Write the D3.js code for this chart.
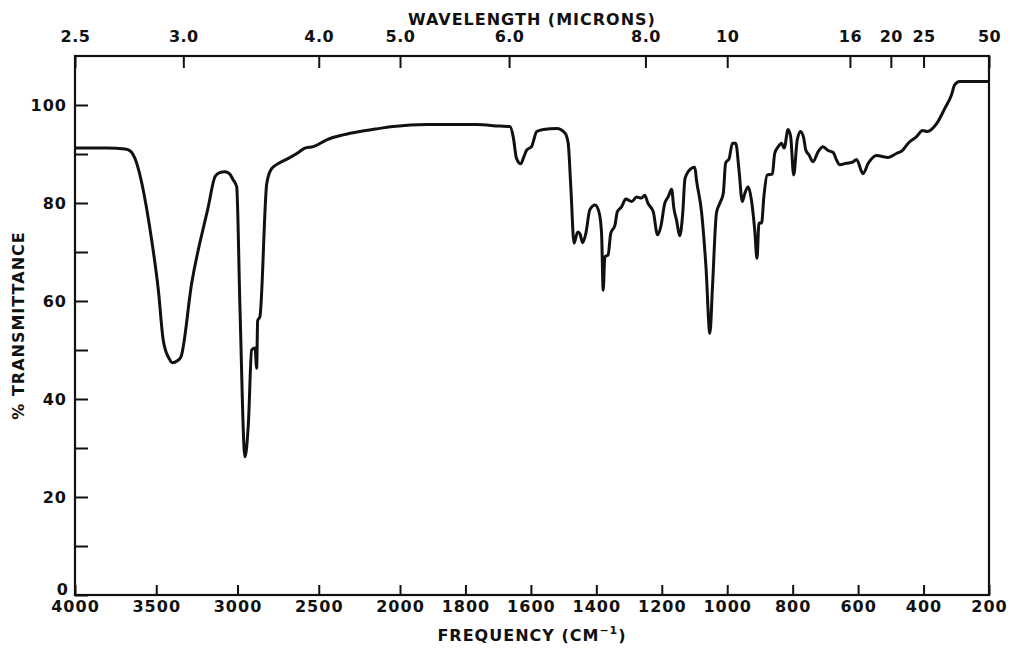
<!DOCTYPE html>
<html>
<head>
<meta charset="utf-8">
<script src="https://cdn.jsdelivr.net/npm/d3@7"></script>
<style>
  body { margin: 0; background: #fff; }
  text { font-family: "DejaVu Sans", sans-serif; font-weight: bold; fill: #111; }
</style>
</head>
<body>
<div id="chart"></div>
<script>
const width = 1015;
const height = 656;

// frequency (cm-1) and % transmittance
const frequency = [4000, 3800, 3692, 3660, 3641, 3528, 3487, 3457, 3420, 3401, 3370, 3348, 3282, 3180, 3138, 3110, 3077, 3050, 3026, 3005,
    2985, 2954, 2933, 2913, 2892, 2882, 2876, 2862, 2820, 2790, 2740, 2687, 2630, 2585, 2534, 2451, 2350, 2246, 2150, 2041,
    1918, 1766, 1695, 1664, 1654, 1644, 1631, 1621, 1613, 1598, 1582, 1562, 1521, 1496, 1486, 1478, 1468, 1457, 1450, 1442,
    1432, 1420, 1404, 1392, 1384, 1379, 1374, 1364, 1356, 1343, 1336, 1323, 1310, 1292, 1277, 1262, 1252, 1242, 1226, 1213,
    1203, 1191, 1180, 1170, 1163, 1155, 1145, 1136, 1129, 1109, 1099, 1094, 1078, 1065, 1053, 1045, 1033, 1023, 1012, 1005,
    994, 984, 974, 964, 954, 946, 936, 926, 916, 909, 903, 895, 888, 878, 862, 855, 844, 834, 826, 814,
    806, 797, 786, 776, 766, 760, 750, 738, 722, 707, 692, 676, 666, 656, 636, 615, 605, 585, 569, 544,
    508, 483, 465, 447, 422, 403, 389, 359, 335, 315, 305, 290, 200];
const transmittance = [91.2, 91.2, 91.0, 90.6, 89.8, 72.4, 62.2, 52, 48.2, 47.4, 47.8, 48.6, 63.6, 79.2, 85.4, 86.2, 86.4, 86.0, 84.7, 83.3,
    58.8, 28.2, 35, 50, 50.4, 46.3, 56, 56.8, 84, 87, 88.2, 89.1, 90.2, 91.2, 91.5, 92.9, 93.9, 94.6, 95.1, 95.6,
    96, 96, 95.7, 95.6, 93.5, 89.1, 88, 89.5, 90.8, 91.5, 94.6, 95, 95.2, 94.3, 92.2, 83.3, 71.8, 74.1, 73.7, 71.9,
    73.8, 78.6, 79.6, 78.2, 73.8, 62.2, 69, 69.4, 73.8, 75.5, 78.2, 79.2, 80.8, 80.3, 81.2, 81, 81.6, 79.9, 78.2, 73.5,
    75.2, 79.9, 81.3, 82.8, 78.9, 76.5, 73.3, 77.9, 85, 87.1, 87.3, 84.7, 77.9, 67, 53.4, 62.9, 77.9, 79.9, 82, 88.1,
    89.1, 92.2, 92.2, 86.7, 80.3, 82, 83.3, 80.6, 74.5, 68.7, 75.9, 75.9, 81.3, 85.7, 85.9, 90.1, 91.5, 92.2, 91.2, 95,
    93.5, 85.7, 92.9, 94.6, 93.2, 90.8, 89.8, 88.4, 90.5, 91.5, 90.7, 90.3, 88.8, 87.8, 88.1, 88.4, 88.9, 86, 88.1, 89.7,
    89.3, 90.1, 90.7, 92.2, 93.5, 94.8, 94.6, 96.3, 99.3, 102, 104.1, 104.8, 104.8];

const freqTicks = [4000, 3500, 3000, 2500, 2000, 1800, 1600, 1400, 1200, 1000, 800, 600, 400, 200];
const micronTicks = [2.5, 3.0, 4.0, 5.0, 6.0, 8.0, 10, 16, 20, 25, 50];
const micronLabels = ["2.5", "3.0", "4.0", "5.0", "6.0", "8.0", "10", "16", "20", "25", "50"];
const yTicks = [0, 10, 20, 30, 40, 50, 60, 70, 80, 90, 100];
const yLabels = [0, 20, 40, 60, 80, 100];

const plotLeft = 75, plotRight = 989, plotTop = 56, plotBottom = 595;

const svg = d3.select("#chart")
    .append("svg")
    .attr("width", width)
    .attr("height", height);

// chart paper: 4000-2000 is compressed to half the scale of 2000-200
const x = d3.scaleLinear()
    .domain([4000, 2000, 200])
    .range([plotLeft, 400, plotRight]);

const y = d3.scaleLinear()
    .domain([0, 110])
    .range([plotBottom, plotTop]);

// bottom axis, ticks point up
svg.append("g")
    .attr("transform", "translate(0," + plotBottom + ")")
    .call(d3.axisBottom(x).tickValues(freqTicks).tickSize(-10).tickPadding(6).tickFormat(d3.format("d")))
    .call(g => g.select(".domain").remove())
    .call(g => g.selectAll("line").attr("stroke", "#111").attr("stroke-width", 2))
    .call(g => g.selectAll("text").attr("font-size", 16).attr("letter-spacing", 1).attr("fill", "#111"));

// top axis in microns, ticks point down
svg.append("g")
    .attr("transform", "translate(0," + plotTop + ")")
    .call(d3.axisTop(x).tickValues(micronTicks.map(m => 10000 / m)).tickSize(-12).tickPadding(14)
        .tickFormat((d, i) => micronLabels[i]))
    .call(g => g.select(".domain").remove())
    .call(g => g.selectAll("line").attr("stroke", "#111").attr("stroke-width", 2))
    .call(g => g.selectAll("text").attr("font-size", 16).attr("letter-spacing", 0.5).attr("fill", "#111"));

// left axis, ticks point inward; the 0 sits just above the corner
svg.append("g")
    .attr("transform", "translate(" + plotLeft + ",0)")
    .call(d3.axisLeft(y).tickValues(yTicks).tickSize(-13).tickPadding(8)
        .tickFormat(d => yLabels.includes(d) ? d : ""))
    .call(g => g.select(".domain").remove())
    .call(g => g.selectAll("line").attr("stroke", "#111").attr("stroke-width", 2))
    .call(g => g.selectAll("text").attr("font-size", 16).attr("letter-spacing", 1).attr("fill", "#111"))
    .call(g => g.selectAll(".tick").filter(d => d === 0).select("text").attr("y", -6).attr("x", -6));

// frame
svg.append("rect")
    .attr("x", plotLeft)
    .attr("y", plotTop)
    .attr("width", plotRight - plotLeft)
    .attr("height", plotBottom - plotTop)
    .attr("fill", "none")
    .attr("stroke", "#111")
    .attr("stroke-width", 2.2);

const points = frequency.map((f, i) => [f, transmittance[i]]);

const line = d3.line()
    .x(d => x(d[0]))
    .y(d => y(d[1]))
    .curve(d3.curveMonotoneX);

svg.append("path")
    .datum(points)
    .attr("d", line)
    .attr("fill", "none")
    .attr("stroke", "#111")
    .attr("stroke-width", 3)
    .attr("stroke-linejoin", "round");

// titles
svg.append("text")
    .attr("x", (plotLeft + plotRight) / 2)
    .attr("y", 25)
    .attr("text-anchor", "middle")
    .attr("font-size", 16)
    .attr("letter-spacing", 1)
    .text("WAVELENGTH (MICRONS)");

const xTitle = svg.append("text")
    .attr("x", (plotLeft + plotRight) / 2)
    .attr("y", 641)
    .attr("text-anchor", "middle")
    .attr("font-size", 16)
    .attr("letter-spacing", 1);
xTitle.append("tspan").text("FREQUENCY (CM");
xTitle.append("tspan").attr("font-size", 11).attr("dy", -7).text("−1");
xTitle.append("tspan").attr("dy", 7).text(")");

svg.append("text")
    .attr("transform", "translate(24," + (plotTop + plotBottom) / 2 + ") rotate(-90)")
    .attr("text-anchor", "middle")
    .attr("font-size", 16)
    .attr("letter-spacing", 1)
    .text("% TRANSMITTANCE");
</script>
</body>
</html>
